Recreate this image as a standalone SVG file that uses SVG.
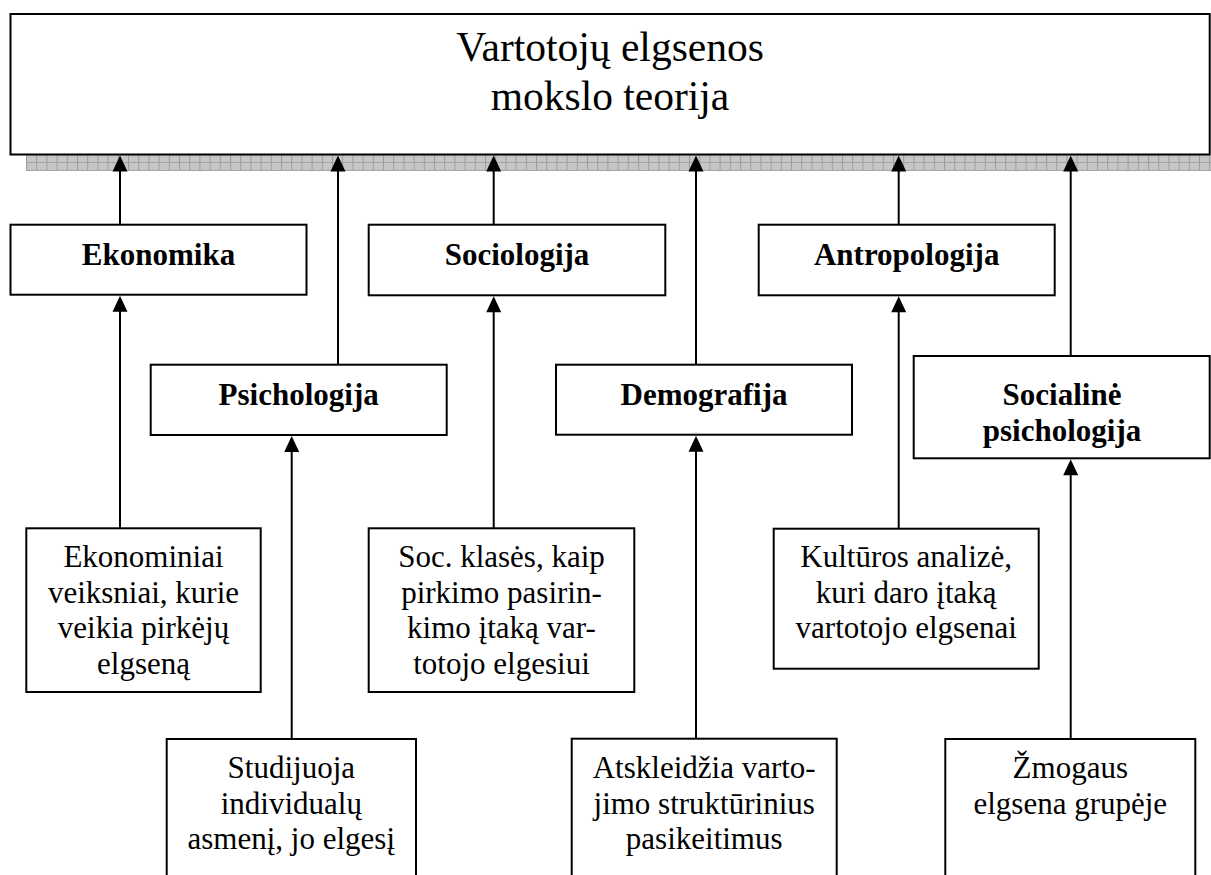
<svg xmlns="http://www.w3.org/2000/svg" xmlns:xlink="http://www.w3.org/1999/xlink" width="1211" height="875" viewBox="0 0 1211 875">
  <style>
    .box { fill: #fff; stroke: #000; stroke-width: 2; }
    .lnk { stroke: #000; stroke-width: 2; fill: none; }
    .ah { fill: #000; }
    .title { font-family: "Liberation Serif", "Times New Roman", serif; font-size: 41.5px; text-anchor: middle; fill: #000; }
    .head { font-family: "Liberation Serif", "Times New Roman", serif; font-size: 31px; font-weight: bold; text-anchor: middle; fill: #000; }
    .body { font-family: "Liberation Serif", "Times New Roman", serif; font-size: 31px; text-anchor: middle; fill: #000; }
  </style>
  <defs>
    <!-- hatched drop shadow under the main box -->
    <pattern id="hatch" x="26" y="155" width="10.2" height="8" patternUnits="userSpaceOnUse">
      <rect width="10.2" height="8" fill="#c6c6c6"/>
      <rect x="0" y="0" width="1" height="8" fill="#9c9c9c"/>
      <rect x="0" y="7" width="10.2" height="1" fill="#a4a4a4"/>
    </pattern>
    <!-- upward arrowhead, tip at origin -->
    <path id="ah" d="M0,0 L7.5,16 L-7.5,16 Z"/>
  </defs>

  <rect x="0" y="0" width="1211" height="875" fill="#fff"/>

  <g id="theory">
    <rect x="26" y="155" width="1186" height="16" fill="url(#hatch)"/>
    <rect class="box" x="10.5" y="14" width="1199.2" height="140.5"/>
    <text class="title" x="610" y="61">Vartotojų elgsenos</text>
    <text class="title" x="610" y="109.5">mokslo teorija</text>
  </g>

  <g id="connectors">
    <!-- disciplines into the theory box -->
    <line class="lnk" x1="120" y1="224.7" x2="120" y2="171"/>
    <line class="lnk" x1="338" y1="364.7" x2="338" y2="171"/>
    <line class="lnk" x1="493.7" y1="224.7" x2="493.7" y2="171"/>
    <line class="lnk" x1="696" y1="364.7" x2="696" y2="171"/>
    <line class="lnk" x1="898.7" y1="224.7" x2="898.7" y2="171"/>
    <line class="lnk" x1="1070.7" y1="356" x2="1070.7" y2="171"/>
    <use xlink:href="#ah" class="ah" x="120" y="155.5"/>
    <use xlink:href="#ah" class="ah" x="338" y="155.5"/>
    <use xlink:href="#ah" class="ah" x="493.7" y="155.5"/>
    <use xlink:href="#ah" class="ah" x="696" y="155.5"/>
    <use xlink:href="#ah" class="ah" x="898.7" y="155.5"/>
    <use xlink:href="#ah" class="ah" x="1070.7" y="155.5"/>
    <!-- descriptions into the disciplines -->
    <line class="lnk" x1="120" y1="528.3" x2="120" y2="311"/>
    <line class="lnk" x1="291.7" y1="739" x2="291.7" y2="451"/>
    <line class="lnk" x1="493.7" y1="528.3" x2="493.7" y2="312"/>
    <line class="lnk" x1="696" y1="738.7" x2="696" y2="451"/>
    <line class="lnk" x1="898.7" y1="528.7" x2="898.7" y2="312"/>
    <line class="lnk" x1="1070.7" y1="739" x2="1070.7" y2="475"/>
    <use xlink:href="#ah" class="ah" x="120" y="295.7"/>
    <use xlink:href="#ah" class="ah" x="291.7" y="436"/>
    <use xlink:href="#ah" class="ah" x="493.7" y="296.3"/>
    <use xlink:href="#ah" class="ah" x="696" y="435.7"/>
    <use xlink:href="#ah" class="ah" x="898.7" y="296.3"/>
    <use xlink:href="#ah" class="ah" x="1070.7" y="459.3"/>
  </g>

  <g id="ekonomika">
    <rect class="box" x="10.5" y="224.7" width="296" height="70"/>
    <text class="head" x="158.5" y="265.3">Ekonomika</text>
  </g>
  <g id="sociologija">
    <rect class="box" x="368.7" y="224.7" width="296.6" height="70.6"/>
    <text class="head" x="517" y="265.3">Sociologija</text>
  </g>
  <g id="antropologija">
    <rect class="box" x="758.7" y="224.7" width="296" height="70.6"/>
    <text class="head" x="906.7" y="265.3">Antropologija</text>
  </g>
  <g id="psichologija">
    <rect class="box" x="150.7" y="364.7" width="296" height="70.3"/>
    <text class="head" x="298.7" y="405">Psichologija</text>
  </g>
  <g id="demografija">
    <rect class="box" x="556" y="364.7" width="296" height="70"/>
    <text class="head" x="704" y="404.5">Demografija</text>
  </g>
  <g id="socialine-psichologija">
    <rect class="box" x="913.7" y="356" width="296" height="102.3"/>
    <text class="head" x="1062" y="404.5">Socialinė</text>
    <text class="head" x="1062" y="440.5">psichologija</text>
  </g>

  <g id="ekonominiai-veiksniai">
    <rect class="box" x="26.3" y="528.3" width="234.4" height="163.7"/>
    <text class="body" x="143.5" y="566.7">Ekonominiai</text>
    <text class="body" x="143.5" y="602.5">veiksniai, kurie</text>
    <text class="body" x="143.5" y="638.2">veikia pirkėjų</text>
    <text class="body" x="143.5" y="674">elgseną</text>
  </g>
  <g id="soc-klases">
    <rect class="box" x="368.7" y="528.3" width="265.6" height="163.7"/>
    <text class="body" x="501.5" y="566.7">Soc. klasės, kaip</text>
    <text class="body" x="501.5" y="602.5">pirkimo pasirin-</text>
    <text class="body" x="501.5" y="638.2">kimo įtaką var-</text>
    <text class="body" x="501.5" y="674">totojo elgesiui</text>
  </g>
  <g id="kulturos-analize">
    <rect class="box" x="773.7" y="528.7" width="265" height="140"/>
    <text class="body" x="906.2" y="566.7">Kultūros analizė,</text>
    <text class="body" x="906.2" y="602.5">kuri daro įtaką</text>
    <text class="body" x="906.2" y="638.2">vartotojo elgsenai</text>
  </g>
  <g id="studijuoja">
    <rect class="box" x="166.7" y="739" width="249.3" height="160"/>
    <text class="body" x="291.3" y="778.3">Studijuoja</text>
    <text class="body" x="291.3" y="813.8">individualų</text>
    <text class="body" x="291.3" y="849.3">asmenį, jo elgesį</text>
  </g>
  <g id="atskleidzia">
    <rect class="box" x="571.7" y="738.7" width="265" height="160"/>
    <text class="body" x="704.2" y="778.3">Atskleidžia varto-</text>
    <text class="body" x="704.2" y="813.8">jimo struktūrinius</text>
    <text class="body" x="704.2" y="849.3">pasikeitimus</text>
  </g>
  <g id="zmogaus-elgsena">
    <rect class="box" x="945.3" y="739" width="250" height="160"/>
    <text class="body" x="1070.3" y="778.3">Žmogaus</text>
    <text class="body" x="1070.3" y="813.8">elgsena grupėje</text>
  </g>
</svg>
